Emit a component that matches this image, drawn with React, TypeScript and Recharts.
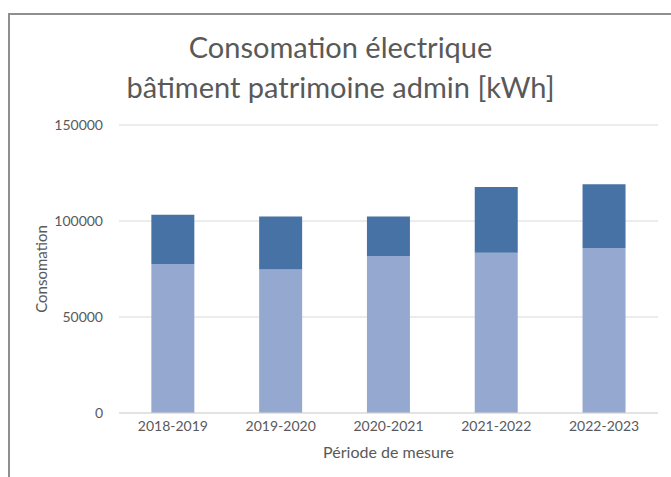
import { BarChart, Bar, XAxis, YAxis, CartesianGrid } from 'recharts';

// Périodes de mesure
const periods = ['2018-2019', '2019-2020', '2020-2021', '2021-2022', '2022-2023'];
// Partie basse (bleu clair) et partie haute (bleu foncé), en kWh
const lowerPart = [77500, 74800, 81600, 83500, 85800];
const upperPart = [25800, 27600, 20800, 34200, 33300];
const yTicks = [0, 50000, 100000, 150000];

const chartData = periods.map((p, i) => ({
  period: p,
  lower: lowerPart[i],
  upper: upperPart[i],
}));

const FONT = 'Lato, "Open Sans", sans-serif';
const TEXT = '#595959';
const GRID = '#d9d9d9';

export default function App() {
  return (
    <div
      style={{
        position: 'absolute',
        left: 0,
        top: 0,
        width: 671,
        height: 477,
        background: '#fff',
        overflow: 'hidden',
        fontFamily: FONT,
      }}
    >
      {/* cadre gris du graphique */}
      <div
        style={{
          position: 'absolute',
          left: 8,
          top: 13,
          width: 700,
          height: 500,
          borderTop: '2px solid #8f8f8f',
          borderLeft: '2px solid #8f8f8f',
        }}
      />
      <div
        style={{
          position: 'absolute',
          left: 10,
          right: 0,
          top: 27,
          textAlign: 'center',
          fontSize: 29,
          lineHeight: '40px',
          color: TEXT,
        }}
      >
        <div>Consomation électrique</div>
        <div>bâtiment patrimoine admin [kWh]</div>
      </div>
      <div style={{ position: 'absolute', left: 0, top: 0 }}>
        <BarChart
          width={671}
          height={477}
          data={chartData}
          margin={{ top: 125, right: 13, bottom: 0, left: 0 }}
          barCategoryGap="30%"
        >
          <CartesianGrid stroke={GRID} vertical={false} />
          <XAxis
            dataKey="period"
            height={64}
            axisLine={{ stroke: GRID }}
            tickLine={false}
            tick={{ fontSize: 14, fill: TEXT, fontFamily: FONT }}
            label={{
              value: 'Période de mesure',
              position: 'insideBottom',
              offset: 19,
              style: { fontSize: 16, fill: TEXT, fontFamily: FONT },
            }}
          />
          <YAxis
            width={119}
            domain={[0, 150000]}
            ticks={yTicks}
            axisLine={false}
            tickLine={false}
            tickSize={0}
            tickMargin={16}
            tick={{ fontSize: 14, fill: TEXT, fontFamily: FONT }}
            label={{
              value: 'Consomation',
              angle: -90,
              position: 'insideLeft',
              offset: 42,
              style: { fontSize: 15, fill: TEXT, fontFamily: FONT, textAnchor: 'middle' },
            }}
          />
          <Bar dataKey="lower" stackId="a" fill="#95a9d0" isAnimationActive={false} />
          <Bar dataKey="upper" stackId="a" fill="#4672a6" isAnimationActive={false} />
        </BarChart>
      </div>
    </div>
  );
}
